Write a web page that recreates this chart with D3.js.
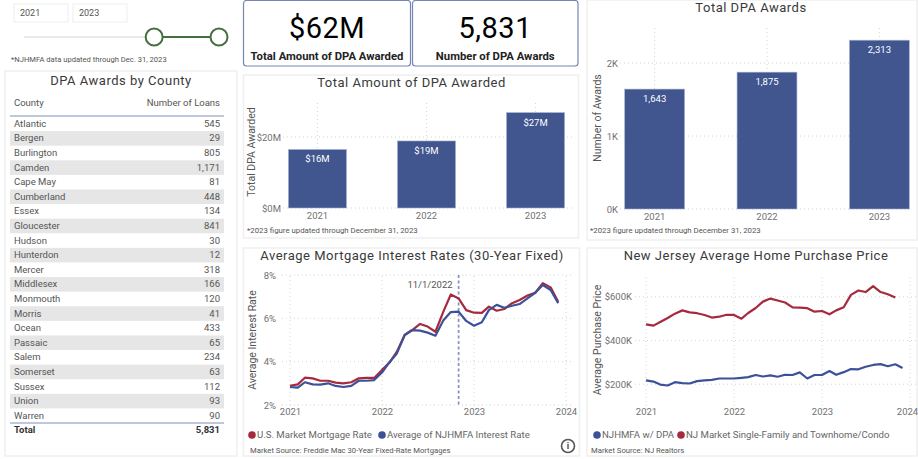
<!DOCTYPE html>
<html>
<head>
<meta charset="utf-8">
<script src="https://cdn.jsdelivr.net/npm/d3@7"></script>
<style>
  html, body { margin: 0; padding: 0; background: #fff; overflow: hidden; }
  svg { display: block; }
  text { font-family: Roboto, sans-serif; }
  .title { letter-spacing: 0.5px; }
  .tick text { fill: #707070; font-size: 9.5px; font-family: Roboto, sans-serif; }
  .grid line { stroke: #d4d4d4; stroke-dasharray: 1 3; }
</style>
</head>
<body>
<svg id="chart" width="918" height="459"></svg>
<script>
const years = ["2021", "2022", "2023"];
const amountAwarded = [16.5, 18.9, 26.9];
const amountLabels = ["$16M", "$19M", "$27M"];
const awardCounts = [1643, 1875, 2313];
const counties = ["Atlantic", "Bergen", "Burlington", "Camden", "Cape May", "Cumberland", "Essex", "Gloucester", "Hudson", "Hunterdon", "Mercer", "Middlesex", "Monmouth", "Morris", "Ocean", "Passaic", "Salem", "Somerset", "Sussex", "Union", "Warren"];
const loans = [545, 29, 805, 1171, 81, 448, 134, 841, 30, 12, 318, 166, 120, 41, 433, 65, 234, 63, 112, 93, 90];
const usRate = [2.89, 2.95, 3.26, 3.23, 3.12, 3.12, 3.03, 3.0, 3.05, 3.23, 3.25, 3.25, 3.62, 3.97, 4.46, 5.23, 5.46, 5.74, 5.62, 5.38, 6.3, 7.1, 6.92, 6.38, 6.26, 6.25, 6.54, 6.35, 6.43, 6.7, 6.85, 7.05, 7.18, 7.62, 7.43, 6.77];
const njRate = [2.83, 2.8, 3.05, 2.95, 2.94, 3.0, 2.88, 2.83, 2.88, 3.12, 3.12, 3.15, 3.5, 4.0, 4.38, 5.23, 5.46, 5.43, 5.34, 5.2, 5.9, 6.29, 6.31, 5.88, 5.66, 5.82, 6.38, 6.62, 6.49, 6.58, 6.66, 6.92, 7.18, 7.54, 7.31, 6.7];
const dpaPrice = [217, 212, 198, 194, 209, 205, 203, 214, 217, 220, 226, 226, 226, 229, 232, 242, 235, 240, 234, 243, 242, 254, 226, 242, 242, 260, 243, 255, 269, 268, 280, 288, 292, 282, 291, 274];
const marketPrice = [474, 468, 485, 503, 523, 538, 529, 525, 517, 505, 509, 518, 517, 500, 526, 549, 578, 592, 583, 574, 552, 551, 548, 532, 535, 520, 538, 552, 609, 629, 622, 649, 622, 612, 597];
const rateTicks = [2, 4, 6, 8];
const priceTicks = [200, 400, 600];
const amountTicks = [0, 20];
const awardTicks = [0, 1000, 2000];
const timeTicks = [2021, 2022, 2023, 2024];

const BAR = "#41558f";
const RED = "#a52a3d";
const BLUE = "#3d5199";
const GREEN = "#44703f";
const TITLE = "#3a3a3a";

const svg = d3.select("#chart");
const months = d3.timeMonth.range(new Date(2021, 0, 1), new Date(2024, 0, 1));

function addText(x, y, str, size, opts = {}) {
  return svg.append("text")
    .attr("x", x).attr("y", y)
    .attr("font-size", size)
    .attr("fill", opts.fill || "#555")
    .attr("font-weight", opts.weight || null)
    .attr("text-anchor", opts.anchor || "start")
    .attr("dominant-baseline", "middle")
    .attr("class", opts.cls || null)
    .text(str);
}

function panel(x, y, w, h) {
  svg.append("rect").attr("x", x).attr("y", y).attr("width", w).attr("height", h)
    .attr("fill", "#fff").attr("stroke", "#efefef").attr("stroke-width", 1.5);
}

function yTitle(x, y, str) {
  svg.append("text")
    .attr("transform", `translate(${x},${y}) rotate(-90)`)
    .attr("text-anchor", "middle").attr("dominant-baseline", "middle")
    .attr("font-size", 10.5).attr("fill", "#555")
    .text(str);
}

function drawSlicer() {
  [[14, "2021"], [73, "2023"]].forEach(([x, label]) => {
    svg.append("rect").attr("x", x).attr("y", 4).attr("width", 54).attr("height", 18)
      .attr("fill", "#fff").attr("stroke", "#eee");
    addText(x + 6, 13.5, label, 9);
  });
  const s = d3.scaleLinear().domain([2019, 2023]).range([24, 219]);
  svg.append("line").attr("x1", s.range()[0]).attr("x2", s(2023)).attr("y1", 37).attr("y2", 37)
    .attr("stroke", "#eaeaea").attr("stroke-width", 2);
  svg.append("line").attr("x1", s(2021.67)).attr("x2", s(2023)).attr("y1", 37).attr("y2", 37)
    .attr("stroke", GREEN).attr("stroke-width", 2);
  svg.selectAll("circle.handle").data([2021.67, 2023]).join("circle")
    .attr("class", "handle")
    .attr("cx", (d) => s(d)).attr("cy", 37).attr("r", 8.5)
    .attr("fill", "#fff").attr("stroke", GREEN).attr("stroke-width", 2);
  addText(11, 60, "*NJHMFA data updated through Dec. 31, 2023", 7.6);
}

function drawTable() {
  panel(5, 71, 232, 385);
  addText(121, 82, "DPA Awards by County", 13, { anchor: "middle", cls: "title", fill: TITLE });
  addText(14, 103.5, "County", 9.5);
  addText(220, 103.5, "Number of Loans", 9.5, { anchor: "end" });
  svg.append("line").attr("x1", 10).attr("x2", 224).attr("y1", 116).attr("y2", 116)
    .attr("stroke", "#7f8fbd");

  const y = d3.scaleBand().domain(counties).range([116.5, 423]);
  svg.selectAll("rect.stripe").data(counties.filter((_, i) => i % 2 === 1)).join("rect")
    .attr("class", "stripe")
    .attr("x", 10).attr("width", 214)
    .attr("y", (d) => y(d)).attr("height", y.bandwidth())
    .attr("fill", "#e6e6e6");
  counties.forEach((name, i) => {
    const cy = y(name) + y.bandwidth() / 2 + 0.5;
    addText(14, cy, name, 9.5);
    addText(220, cy, d3.format(",")(loans[i]), 9.5, { anchor: "end" });
  });
  svg.append("line").attr("x1", 10).attr("x2", 224).attr("y1", 423).attr("y2", 423)
    .attr("stroke", "#a9b4d3").attr("stroke-width", 1.5);
  addText(14, 430.5, "Total", 9.5, { weight: 700, fill: "#333" });
  addText(220, 430.5, d3.format(",")(d3.sum(loans)), 9.5, { weight: 700, fill: "#333", anchor: "end" });
}

function drawKpi(x, w, value, label) {
  svg.append("rect").attr("x", x).attr("y", 0.5).attr("width", w).attr("height", 65.5)
    .attr("rx", 3).attr("fill", "#fff").attr("stroke", "#7685b4").attr("stroke-width", 1.2);
  addText(x + w / 2, 30, value, 29, { anchor: "middle", fill: "#000", cls: "title" });
  addText(x + w / 2, 57, label, 11.3, { anchor: "middle", fill: "#222", weight: 700 });
}

function drawBars(opts) {
  const x = d3.scaleBand().domain(years).range(opts.xRange).paddingInner(0.467).paddingOuter(0.233);
  const y = d3.scaleLinear().domain(opts.yDomain).range(opts.yRange);
  const gridRight = opts.gridRight;

  const gy = svg.append("g").attr("class", "grid");
  gy.selectAll("line.h").data(opts.ticks).join("line")
    .attr("class", "h").attr("x1", opts.left).attr("x2", gridRight)
    .attr("y1", (d) => y(d)).attr("y2", (d) => y(d));
  gy.selectAll("line.v").data(years).join("line")
    .attr("class", "v").attr("x1", (d) => x(d) + x.bandwidth() / 2).attr("x2", (d) => x(d) + x.bandwidth() / 2)
    .attr("y1", opts.yRange[0]).attr("y2", opts.yRange[1]);

  svg.selectAll(`rect.${opts.id}`).data(opts.values).join("rect")
    .attr("class", opts.id)
    .attr("x", (_, i) => x(years[i])).attr("width", x.bandwidth())
    .attr("y", (d) => y(d)).attr("height", (d) => y(0) - y(d))
    .attr("fill", BAR).attr("stroke", "#a9b4d3").attr("stroke-width", 0.6);
  svg.selectAll(`text.${opts.id}`).data(opts.values).join("text")
    .attr("class", opts.id)
    .attr("x", (_, i) => x(years[i]) + x.bandwidth() / 2)
    .attr("y", (d) => y(d) + 10.5)
    .attr("text-anchor", "middle").attr("dominant-baseline", "middle")
    .attr("font-size", 9.5).attr("fill", "#fff")
    .text((_, i) => opts.labels[i]);

  svg.append("g").attr("transform", `translate(${opts.left},0)`)
    .call(d3.axisLeft(y).tickValues(opts.ticks).tickSize(0).tickPadding(opts.pad).tickFormat(opts.format))
    .call((g) => g.select(".domain").remove());
  svg.append("g").attr("transform", `translate(0,${opts.yRange[0]})`)
    .call(d3.axisBottom(x).tickSize(0).tickPadding(4))
    .call((g) => g.select(".domain").remove());
}

function drawLines(opts) {
  const x = d3.scaleTime().domain([new Date(2021, 0, 1), new Date(2024, 0, 1)]).range(opts.xRange);
  const y = d3.scaleLinear().domain(opts.yDomain).range(opts.yRange);

  const g = svg.append("g").attr("class", "grid");
  g.selectAll("line.h").data(opts.ticks).join("line")
    .attr("class", "h").attr("x1", opts.left).attr("x2", opts.gridRight)
    .attr("y1", (d) => y(d)).attr("y2", (d) => y(d));
  g.selectAll("line.v").data(timeTicks).join("line")
    .attr("class", "v").attr("x1", (d) => x(new Date(d, 0, 1))).attr("x2", (d) => x(new Date(d, 0, 1)))
    .attr("y1", opts.yRange[0]).attr("y2", opts.yRange[1]);

  svg.append("g").attr("transform", `translate(${opts.left},0)`)
    .call(d3.axisLeft(y).tickValues(opts.ticks).tickSize(0).tickPadding(opts.pad).tickFormat(opts.format))
    .call((a) => a.select(".domain").remove());
  svg.append("g").attr("transform", `translate(0,${opts.axisY})`)
    .call(d3.axisBottom(x).tickValues(timeTicks.map((d) => new Date(d, 0, 1))).tickSize(0).tickPadding(3).tickFormat(d3.timeFormat("%Y")))
    .call((a) => a.select(".domain").remove())
    .call((a) => a.selectAll(".tick:last-of-type text").attr("dx", opts.lastTickShift || 0));

  if (opts.marker) {
    svg.append("line")
      .attr("x1", x(opts.marker)).attr("x2", x(opts.marker))
      .attr("y1", opts.yRange[1]).attr("y2", opts.yRange[0])
      .attr("stroke", "#8a93c8").attr("stroke-width", 1.8).attr("stroke-dasharray", "3 2.5");
    addText(x(opts.marker) - 6, opts.yRange[1] + 10, opts.markerLabel, 9.5, { anchor: "end" });
  }

  const line = d3.line().x((_, i) => x(months[i])).y((d) => y(d));
  opts.series.forEach(([values, color]) => {
    svg.append("path").datum(values)
      .attr("fill", "none").attr("stroke", color).attr("stroke-width", 2.2)
      .attr("stroke-linejoin", "round")
      .attr("d", line);
  });
}

function legendDot(x, y, color) {
  svg.append("circle").attr("cx", x).attr("cy", y).attr("r", 3.8).attr("fill", color);
}

drawSlicer();
drawTable();
drawKpi(243.5, 167, "$62M", "Total Amount of DPA Awarded");
drawKpi(412.5, 165.5, "5,831", "Number of DPA Awards");

panel(243.5, 75, 335, 163);
addText(411.5, 83.5, "Total Amount of DPA Awarded", 13, { anchor: "middle", cls: "title", fill: TITLE });
yTitle(252, 152, "Total DPA Awarded");
drawBars({
  id: "amount", values: amountAwarded, labels: amountLabels,
  xRange: [263, 590], yDomain: [0, 29.6], yRange: [208, 103],
  ticks: amountTicks, left: 283, gridRight: 575, pad: 2,
  format: (d) => `$${d}M`,
});
addText(247, 231, "*2023 figure updated through December 31, 2023", 7.8);

panel(587, 0, 330, 240);
addText(751, 9, "Total DPA Awards", 13, { anchor: "middle", cls: "title", fill: TITLE });
yTitle(598, 118, "Number of Awards");
drawBars({
  id: "award", values: awardCounts, labels: awardCounts.map(d3.format(",")),
  xRange: [598.5, 935.5], yDomain: [0, 2480], yRange: [209, 28],
  ticks: awardTicks, left: 620, gridRight: 912, pad: 2,
  format: (d) => `${d / 1000}K`,
});
addText(590, 231, "*2023 figure updated through December 31, 2023", 7.8);

panel(243.5, 248, 336, 208);
addText(412, 257, "Average Mortgage Interest Rates (30-Year Fixed)", 13, { anchor: "middle", cls: "title", fill: TITLE });
yTitle(253, 340, "Average Interest Rate");
drawLines({
  xRange: [290, 566], yDomain: [2, 8], yRange: [405, 275], axisY: 405,
  ticks: rateTicks, left: 282, gridRight: 573, pad: 6,
  format: (d) => `${d}%`,
  marker: new Date(2022, 10, 1), markerLabel: "11/1/2022",
  series: [[usRate, RED], [njRate, BLUE]],
});
legendDot(252, 435, RED);
addText(257, 435, "U.S. Market Mortgage Rate", 9.6, { fill: "#666" });
legendDot(382, 435, BLUE);
addText(387, 435, "Average of NJHMFA Interest Rate", 9.6, { fill: "#666" });
addText(250, 451, "Market Source: Freddie Mac 30-Year Fixed-Rate Mortgages", 7.7);
svg.append("circle").attr("cx", 568).attr("cy", 446).attr("r", 6.5)
  .attr("fill", "#fff").attr("stroke", "#555").attr("stroke-width", 1.6);
addText(568, 446.5, "i", 9, { anchor: "middle", weight: 700, fill: "#444" });

panel(587, 248, 330, 208);
addText(756, 257, "New Jersey Average Home Purchase Price", 13, { anchor: "middle", cls: "title", fill: TITLE });
yTitle(598, 340, "Average Purchase Price");
drawLines({
  xRange: [646, 910], yDomain: [100, 700], yRange: [406, 275], axisY: 405,
  ticks: priceTicks, left: 635, gridRight: 918, pad: 3,
  format: (d) => `$${d}K`,
  lastTickShift: -3,
  series: [[dpaPrice, BLUE], [marketPrice, RED]],
});
legendDot(597, 435, BLUE);
addText(602, 435, "NJHMFA w/ DPA", 9.6, { fill: "#666" });
legendDot(681, 435, RED);
addText(686, 435, "NJ Market Single-Family and Townhome/Condo", 9.6, { fill: "#666" });
addText(591, 451, "Market Source: NJ Realtors", 7.7);
</script>
</body>
</html>
